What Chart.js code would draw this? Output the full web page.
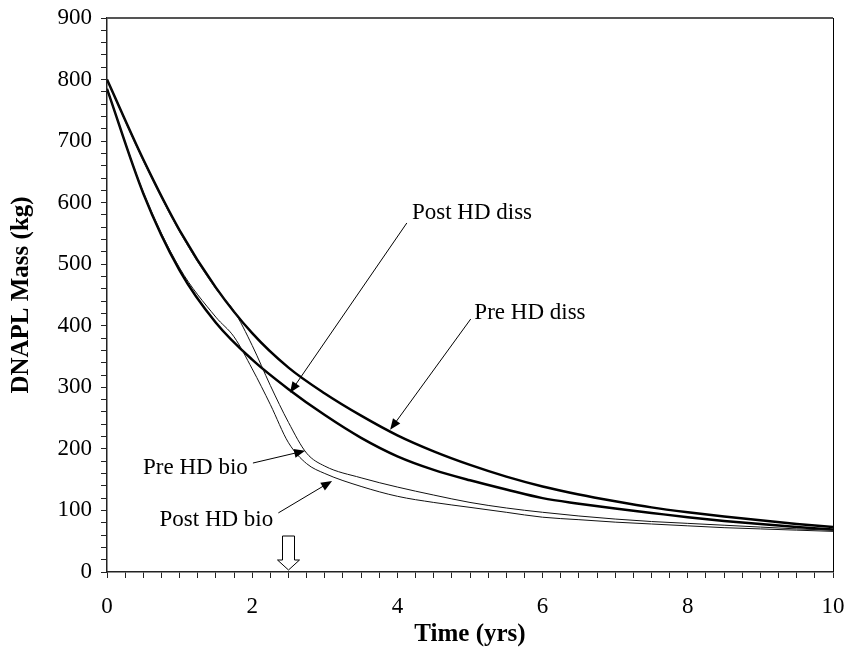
<!DOCTYPE html>
<html>
<head>
<meta charset="utf-8">
<script src="https://cdn.jsdelivr.net/npm/chart.js@4.4.1/dist/chart.umd.min.js"></script>
<style>
  html, body { margin: 0; padding: 0; background: #fff; }
</style>
</head>
<body>
<canvas id="chart" width="846" height="654"></canvas>
<script>
// time axes (years)
const timeDiss = [0, 0.5, 1, 1.5, 2, 2.5, 3, 3.5, 4, 4.5, 5, 5.5, 6, 6.5, 7, 7.5, 8, 8.5, 9, 9.5, 10];
const timeBio = [0, 0.5, 1, 1.5, 1.75, 2, 2.25, 2.5, 2.75, 3, 3.5, 4, 4.5, 5, 5.5, 6, 6.5, 7, 7.5, 8, 8.5, 9, 9.5, 10];

// DNAPL mass (kg)
const preDiss  = [800, 670, 555, 462, 388, 332, 290, 254, 222, 196, 174, 155, 139, 126, 115, 105, 97, 90, 84, 78, 73];
const postDiss = [785, 615, 490, 405, 345, 297, 255, 218, 188, 166, 149, 134, 120, 111, 103, 96, 89, 83, 78, 73, 69];
const preBio   = [800, 668, 553, 460, 424, 368, 303, 243, 193, 172, 153, 138, 125, 113, 104, 97, 91, 86, 82, 79, 76, 73, 70, 68];
const postBio  = [785, 617, 494, 414, 382, 330, 272, 210, 176, 160, 139, 123, 113, 105, 97, 89, 85, 81, 78, 75, 72, 70, 68, 66];

// callouts: label, text anchor [t, kg], arrow from / to [t, kg]
const callouts = [
  { label: 'Post HD diss', align: 'left',  text: [4.2, 583],  from: [4.13, 567], to: [2.52, 291] },
  { label: 'Pre HD diss',  align: 'left',  text: [5.06, 421], from: [5.01, 411], to: [3.9, 231] },
  { label: 'Pre HD bio',   align: 'right', text: [1.94, 169], from: [2.01, 177], to: [2.73, 197] },
  { label: 'Post HD bio',  align: 'right', text: [2.29, 84],  from: [2.36, 96],  to: [3.1, 148] }
];
const hdTime = 2.5;

const serif = '"Liberation Serif", "Times New Roman", serif';

function pts(xs, ys) {
  return xs.map((x, i) => ({ x: x, y: ys[i] }));
}

function arrowLine(ctx, x1, y1, x2, y2) {
  const ang = Math.atan2(y2 - y1, x2 - x1);
  const len = 11, half = 4.5;
  ctx.beginPath();
  ctx.moveTo(x1, y1);
  ctx.lineTo(x2 - Math.cos(ang) * len * 0.8, y2 - Math.sin(ang) * len * 0.8);
  ctx.stroke();
  ctx.beginPath();
  ctx.moveTo(x2, y2);
  ctx.lineTo(x2 - Math.cos(ang) * len - Math.sin(ang) * half, y2 - Math.sin(ang) * len + Math.cos(ang) * half);
  ctx.lineTo(x2 - Math.cos(ang) * len + Math.sin(ang) * half, y2 - Math.sin(ang) * len - Math.cos(ang) * half);
  ctx.closePath();
  ctx.fill();
}

const extras = {
  id: 'extras',
  afterDatasetsDraw(chart) {
    const { ctx, chartArea: a, scales: { x, y } } = chart;
    ctx.save();
    // top and right frame
    ctx.strokeStyle = '#555';
    ctx.lineWidth = 2;
    ctx.beginPath();
    ctx.moveTo(a.left, a.top);
    ctx.lineTo(a.right, a.top);
    ctx.stroke();
    ctx.strokeStyle = '#000';
    ctx.lineWidth = 1;
    ctx.beginPath();
    ctx.moveTo(a.right + 0.5, a.top);
    ctx.lineTo(a.right + 0.5, a.bottom);
    ctx.stroke();

    // callouts
    ctx.font = '23px ' + serif;
    ctx.fillStyle = '#000';
    ctx.strokeStyle = '#000';
    ctx.lineWidth = 1;
    ctx.textBaseline = 'middle';
    callouts.forEach(c => {
      ctx.textAlign = c.align;
      ctx.fillText(c.label, x.getPixelForValue(c.text[0]), y.getPixelForValue(c.text[1]));
      arrowLine(ctx,
        x.getPixelForValue(c.from[0]), y.getPixelForValue(c.from[1]),
        x.getPixelForValue(c.to[0]), y.getPixelForValue(c.to[1]));
    });

    // hollow arrow marking HD time
    const cx = x.getPixelForValue(hdTime);
    const by = y.getPixelForValue(0) - 2;
    ctx.fillStyle = '#fff';
    ctx.beginPath();
    ctx.moveTo(cx - 6, by - 34);
    ctx.lineTo(cx + 6, by - 34);
    ctx.lineTo(cx + 6, by - 10);
    ctx.lineTo(cx + 11, by - 10);
    ctx.lineTo(cx, by);
    ctx.lineTo(cx - 11, by - 10);
    ctx.lineTo(cx - 6, by - 10);
    ctx.closePath();
    ctx.fill();
    ctx.stroke();
    ctx.restore();
  }
};

new Chart(document.getElementById('chart'), {
  type: 'line',
  data: {
    datasets: [
      { label: 'Pre HD bio', data: pts(timeBio, preBio), borderColor: '#111', borderWidth: 1 },
      { label: 'Post HD bio', data: pts(timeBio, postBio), borderColor: '#111', borderWidth: 1 },
      { label: 'Pre HD diss', data: pts(timeDiss, preDiss), borderColor: '#000', borderWidth: 2.5 },
      { label: 'Post HD diss', data: pts(timeDiss, postDiss), borderColor: '#000', borderWidth: 2.5 }
    ]
  },
  options: {
    responsive: false,
    animation: false,
    events: [],
    layout: { padding: { top: 18, right: 13, left: 0, bottom: 0 } },
    elements: {
      point: { radius: 0 },
      line: { cubicInterpolationMode: 'monotone', fill: false }
    },
    plugins: { legend: { display: false }, tooltip: { enabled: false } },
    scales: {
      x: {
        type: 'linear',
        min: 0,
        max: 10,
        afterFit: s => {
          s.height = 82;
          s.paddingLeft = 0;
          s.paddingRight = 0;
        },
        border: { color: '#222', width: 1.5 },
        grid: { drawOnChartArea: false, drawTicks: true, tickLength: 6, color: '#222' },
        ticks: {
          stepSize: 0.25,
          autoSkip: false,
          maxRotation: 0,
          padding: 15,
          color: '#000',
          font: { family: serif, size: 23 },
          callback: v => (Math.abs(v / 2 - Math.round(v / 2)) < 1e-6 ? Math.round(v) : '')
        },
        title: {
          display: true,
          text: 'Time (yrs)',
          color: '#000',
          font: { family: serif, size: 25, weight: 'bold' },
          padding: { top: 0, bottom: 4 }
        }
      },
      y: {
        min: 0,
        max: 900,
        afterFit: s => {
          s.width = 107;
          s.paddingTop = 0;
          s.paddingBottom = 0;
        },
        border: { color: '#222', width: 1.5 },
        grid: { drawOnChartArea: false, drawTicks: true, tickLength: 6, color: '#222' },
        ticks: {
          stepSize: 20,
          autoSkip: false,
          padding: 9,
          color: '#000',
          font: { family: serif, size: 23 },
          callback: v => (v % 100 === 0 ? v : '')
        },
        title: {
          display: true,
          text: 'DNAPL Mass (kg)',
          color: '#000',
          font: { family: serif, size: 25, weight: 'bold' },
          padding: { top: 7, bottom: 0 }
        }
      }
    }
  },
  plugins: [extras]
});
</script>
</body>
</html>
